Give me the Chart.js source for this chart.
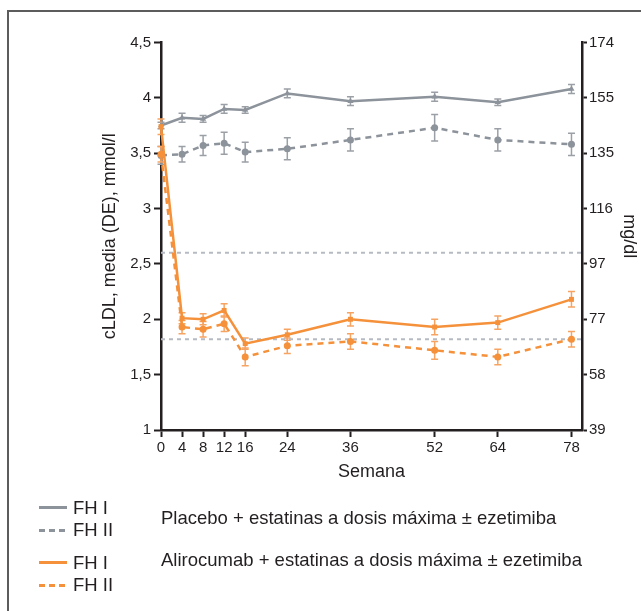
<!DOCTYPE html>
<html>
<head>
<meta charset="utf-8">
<script src="https://cdn.jsdelivr.net/npm/chart.js@4/dist/chart.umd.min.js"></script>
<style>
body{margin:0;background:#fff;font-family:"Liberation Sans",Arial,sans-serif;color:#231f20}
#wrap{position:relative;width:641px;height:611px;overflow:hidden}
canvas{position:absolute;left:0;top:0}
.frameTop{position:absolute;left:7px;top:10px;width:634px;height:2px;background:#5c5c5c}
.frameLeft{position:absolute;left:7px;top:10px;width:2px;height:601px;background:#5c5c5c}
.lg{position:absolute;font-size:18.5px;line-height:20px;white-space:nowrap}
.ln{position:absolute;left:39px;width:28px;height:3px}
</style>
</head>
<body>
<div id="wrap">
  <canvas id="myChart" width="641" height="611"></canvas>
  <div class="frameTop"></div>
  <div class="frameLeft"></div>

  <div class="ln" style="top:506px;background:#8d939b"></div>
  <div class="lg" style="left:73px;top:498px">FH I</div>
  <div class="ln" style="top:529px;background:repeating-linear-gradient(to right,#8d939b 0 6px,transparent 6px 10px)"></div>
  <div class="lg" style="left:73px;top:520px">FH II</div>
  <div class="lg" style="left:161px;top:508px">Placebo + estatinas a dosis máxima ± ezetimiba</div>

  <div class="ln" style="top:561px;background:#f5913a"></div>
  <div class="lg" style="left:73px;top:553px">FH I</div>
  <div class="ln" style="top:584px;background:repeating-linear-gradient(to right,#f5913a 0 6px,transparent 6px 10px)"></div>
  <div class="lg" style="left:73px;top:575px">FH II</div>
  <div class="lg" style="left:161px;top:550px">Alirocumab + estatinas a dosis máxima ± ezetimiba</div>
</div>

<script>
// semanas del estudio
var weeks = [0, 4, 8, 12, 16, 24, 36, 52, 64, 78]

var placeboFH1 = [3.75, 3.82, 3.81, 3.90, 3.89, 4.04, 3.97, 4.01, 3.96, 4.08]
var placeboFH1Err = [0.03, 0.04, 0.03, 0.04, 0.03, 0.04, 0.04, 0.04, 0.03, 0.04]
var placeboFH2 = [3.48, 3.49, 3.57, 3.59, 3.51, 3.54, 3.62, 3.73, 3.62, 3.58]
var placeboFH2Err = [0.08, 0.07, 0.09, 0.10, 0.09, 0.10, 0.10, 0.12, 0.10, 0.10]
var aliroFH1 = [3.74, 2.01, 2.00, 2.08, 1.78, 1.86, 2.00, 1.93, 1.97, 2.18]
var aliroFH1Err = [0.07, 0.05, 0.05, 0.06, 0.05, 0.05, 0.06, 0.07, 0.06, 0.07]
var aliroFH2 = [3.49, 1.93, 1.91, 1.96, 1.66, 1.76, 1.80, 1.72, 1.66, 1.82]
var aliroFH2Err = [0.07, 0.06, 0.07, 0.07, 0.08, 0.07, 0.07, 0.08, 0.07, 0.07]

// lineas de referencia (100 y 70 mg/dl)
var refLevels = [2.6, 1.82]

// etiquetas del eje derecho (mg/dl)
var mgLabels = ['39', '58', '77', '97', '116', '135', '155', '174']

var gray = '#8d939b'
var orange = '#f5913a'

function toPoints(ys) {
    return weeks.map(function (w, i) { return { x: w, y: ys[i] } })
}

function series(ys, err, color, errColor, dash, marker, order) {
    return {
        data: toPoints(ys),
        err: err,
        errColor: errColor,
        borderColor: color,
        backgroundColor: color,
        borderWidth: 2.5,
        borderDash: dash,
        pointStyle: marker,
        pointRadius: 3.5,
        pointBorderWidth: 0,
        order: order,
        clip: false
    }
}

// barras de error (DE)
var errorBars = {
    id: 'errorBars',
    beforeDatasetsDraw: function (chart) {
        var ctx = chart.ctx
        var x = chart.scales.x, y = chart.scales.y
        chart.data.datasets.forEach(function (ds) {
            if (!ds.err) return
            ctx.save()
            ctx.strokeStyle = ds.errColor
            ctx.lineWidth = 1.5
            ds.data.forEach(function (p, j) {
                var px = x.getPixelForValue(p.x)
                var top = y.getPixelForValue(p.y + ds.err[j])
                var bot = y.getPixelForValue(p.y - ds.err[j])
                ctx.beginPath()
                ctx.moveTo(px, top); ctx.lineTo(px, bot)
                ctx.moveTo(px - 3.5, top); ctx.lineTo(px + 3.5, top)
                ctx.moveTo(px - 3.5, bot); ctx.lineTo(px + 3.5, bot)
                ctx.stroke()
            })
            ctx.restore()
        })
    }
}

var datasets = refLevels.map(function (v) {
    return {
        data: [{ x: 0, y: v }, { x: 80, y: v }],
        borderColor: '#b6bac2',
        borderWidth: 2,
        borderDash: [4, 4],
        pointRadius: 0,
        order: 10
    }
})
datasets.push(series(placeboFH2, placeboFH2Err, gray, '#9ba0a7', [6, 5], 'circle', 5))
datasets.push(series(placeboFH1, placeboFH1Err, gray, '#9ba0a7', [], 'triangle', 4))
datasets.push(series(aliroFH2, aliroFH2Err, orange, '#f7a463', [6, 5], 'circle', 2))
datasets.push(series(aliroFH1, aliroFH1Err, orange, '#f7a463', [], 'rect', 1))

var tickFont = { family: '"Liberation Sans", Arial, sans-serif', size: 15 }
var titleFont = { family: '"Liberation Sans", Arial, sans-serif', size: 18, lineHeight: 1.2 }
var axisBlack = '#231f20'

var ctx = document.getElementById('myChart')
var myChart = new Chart(ctx, {
    type: 'line',
    data: { datasets: datasets },
    plugins: [errorBars],
    options: {
        responsive: false,
        animation: false,
        layout: { padding: { left: 99, right: 1.2, top: 42.5, bottom: 128.2 } },
        plugins: { legend: { display: false }, tooltip: { enabled: false } },
        scales: {
            x: {
                type: 'linear',
                min: 0,
                max: 80,
                afterBuildTicks: function (scale) {
                    scale.ticks = weeks.map(function (w) { return { value: w } })
                },
                afterFit: function (scale) { scale.height = 52.8 },
                ticks: { font: tickFont, color: axisBlack, padding: 2, maxRotation: 0, autoSkip: false },
                grid: { drawOnChartArea: false, tickLength: 7, tickWidth: 2, tickColor: axisBlack },
                border: { color: axisBlack, width: 2.5 },
                title: { display: true, text: 'Semana', font: titleFont, color: axisBlack, padding: 0 }
            },
            y: {
                position: 'left',
                min: 1,
                max: 4.5,
                ticks: {
                    stepSize: 0.5,
                    font: tickFont,
                    color: axisBlack,
                    padding: 3,
                    callback: function (v) { return String(v).replace('.', ',') }
                },
                afterFit: function (scale) { scale.width = 62 },
                grid: { drawOnChartArea: false, tickLength: 7, tickWidth: 2, tickColor: axisBlack },
                border: { color: axisBlack, width: 2.5 },
                title: { display: true, text: 'cLDL, media (DE), mmol/l', font: titleFont, color: axisBlack, padding: 0 }
            },
            y2: {
                position: 'right',
                min: 1,
                max: 4.5,
                ticks: {
                    stepSize: 0.5,
                    font: tickFont,
                    color: axisBlack,
                    padding: 2,
                    callback: function (v, i) { return mgLabels[i] }
                },
                afterFit: function (scale) { scale.width = 57.8 },
                grid: { drawOnChartArea: false, tickLength: 5, tickWidth: 2, tickColor: axisBlack },
                border: { color: axisBlack, width: 2.5 },
                title: { display: true, text: 'mg/dl', font: titleFont, color: axisBlack, padding: 0 }
            }
        }
    }
})
</script>
</body>
</html>
